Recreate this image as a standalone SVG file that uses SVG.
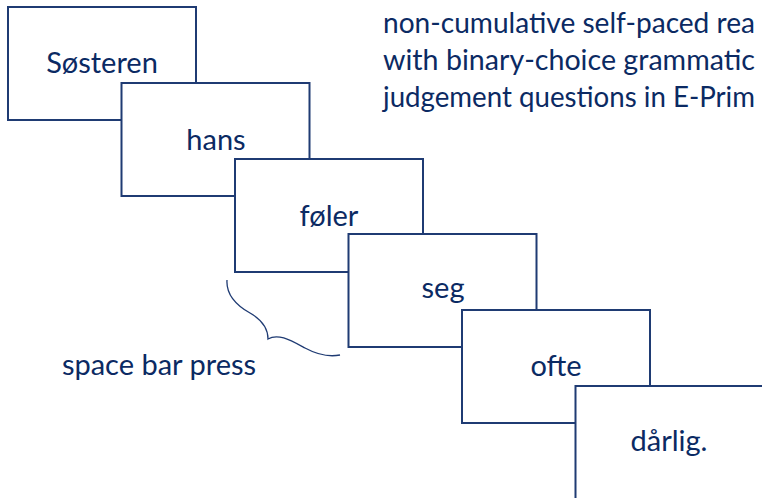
<svg xmlns="http://www.w3.org/2000/svg" width="762" height="498" viewBox="0 0 762 498">
<style>
.box{fill:#fff;stroke:#1F3B73;stroke-width:2}
.w{font-family:Lato,"Open Sans","Liberation Sans",sans-serif;font-size:29px;fill:#0B2A63;text-anchor:middle}
.t{font-family:Lato,"Open Sans","Liberation Sans",sans-serif;font-size:28px;fill:#0B2A63}
.brace{fill:none;stroke:#1F3B73;stroke-width:1.3}
</style>
<rect width="762" height="498" fill="#fff"/>
<g id="title">
<text class="t" x="383" y="33" textLength="372" lengthAdjust="spacingAndGlyphs">non-cumulative self-paced rea</text>
<text class="t" x="383" y="70" textLength="372" lengthAdjust="spacingAndGlyphs">with binary-choice grammatic</text>
<text class="t" x="383" y="107" textLength="372" lengthAdjust="spacingAndGlyphs">judgement questions in E-Prim</text>
</g>
<g id="n1"><rect class="box" x="8" y="7" width="188" height="113"/><text class="w" x="102" y="73">Søsteren</text></g>
<g id="n2"><rect class="box" x="121.5" y="83" width="188" height="113"/><text class="w" x="216" y="150">hans</text></g>
<g id="n3"><rect class="box" x="235" y="159" width="188" height="113"/><text class="w" x="329" y="226">føler</text></g>
<g id="n4"><rect class="box" x="348.5" y="234" width="188" height="113"/><text class="w" x="443" y="298">seg</text></g>
<g id="n5"><rect class="box" x="462" y="310" width="188" height="113"/><text class="w" x="556" y="376">ofte</text></g>
<g id="n6"><rect class="box" x="575.5" y="386" width="188" height="113"/><text class="w" x="669" y="451">dårlig.</text></g>
<g id="connectors">
<path class="brace" d="M227,280 C226,295 236,305 250,313 C262,320 268,328 268,339 C278,333 290,340 305,348 C318,355 330,357 340,355"/>
</g>
<g id="label"><text class="w" x="159" y="375">space bar press</text></g>
</svg>
